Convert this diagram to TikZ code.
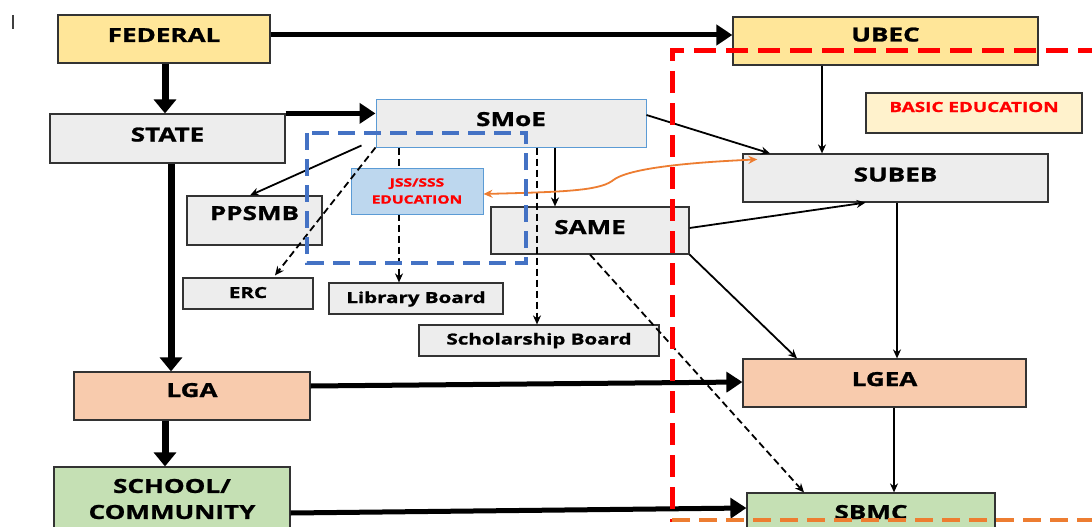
\documentclass[tikz,border=0pt]{standalone}
\usepackage{fontspec}
\setmainfont{Open Sans}[FakeStretch=1.35, BoldFeatures={FakeBold=1.2}]
\usetikzlibrary{arrows.meta}
\definecolor{fedY}{HTML}{FFE699}
\definecolor{grayF}{HTML}{EDEDED}
\definecolor{peach}{HTML}{F8CBAD}
\definecolor{greenF}{HTML}{C5E0B4}
\definecolor{lightB}{HTML}{BDD7EE}
\definecolor{cream}{HTML}{FFF2CC}
\definecolor{blueD}{HTML}{4472C4}
\definecolor{blueL}{HTML}{5B9BD5}
\definecolor{orangeD}{HTML}{ED7D31}
\definecolor{redD}{HTML}{FF0000}
\tikzset{
  basebox/.style={draw=black!80, line width=1.2pt, inner sep=0pt, font=\bfseries\fontsize{19.3}{21}\selectfont},
  box/.style={basebox, text height=14pt, text depth=8pt},
  smallbox/.style={basebox, font=\bfseries\fontsize{15.2}{17}\selectfont, text height=11pt, text depth=2pt},
  thickarr/.style={line width=5pt, -{Triangle[length=16pt,width=20pt]}},
  heavyarr/.style={line width=7pt, -{Triangle[length=14pt,width=22pt]}},
  thinarr/.style={line width=1.8pt, -{Stealth[length=9pt,width=8pt]}},
  dasharr/.style={line width=1.8pt, dash pattern=on 7pt off 4pt, -{Stealth[length=9pt,width=8pt]}},
}
\begin{document}
\begin{tikzpicture}[x=1pt,y=-1pt]
\clip (0,0) rectangle (1092,527);
\fill[white] (0,0) rectangle (1092,527);
% stray mark
\draw[line width=1.5pt, black!75] (13,15) -- (13,29);
% boxes
\node[box, fill=fedY, minimum width=212pt, minimum height=48pt] (fed) at (164,39) {FEDERAL};
\node[box, fill=grayF, minimum width=235pt, minimum height=49pt] (state) at (167.5,138.5) {STATE};
\node[box, draw=blueL, line width=1pt, fill=grayF, minimum width=270pt, minimum height=48pt] (smoe) at (511,123) {SMoE};
\node[box, fill=grayF, minimum width=198pt, minimum height=47pt, text depth=7pt] (same) at (590,230.5) {SAME};
\node[box, fill=grayF, minimum width=135pt, minimum height=49pt, text depth=15pt] (ppsmb) at (254.5,220.5) {PPSMB};
\node[smallbox, fill=grayF, minimum width=130pt, minimum height=31pt] (erc) at (248,293.5) {ERC};
\node[smallbox, fill=grayF, minimum width=174pt, minimum height=31pt] (lib) at (416,298.5) {Library Board};
\node[smallbox, fill=grayF, minimum width=240pt, minimum height=31pt, text depth=3pt] (schol) at (539,340.5) {Scholarship Board};
\node[box, fill=fedY, minimum width=305pt, minimum height=48pt, text depth=13pt] (ubec) at (885.5,41) {UBEC};
\node[basebox, fill=cream, minimum width=216pt, minimum height=40pt, font=\bfseries\fontsize{14}{16}\selectfont, text=redD, text height=10pt, text depth=12pt] (basic) at (974,113) {BASIC EDUCATION};
\node[box, fill=grayF, minimum width=305pt, minimum height=48pt, text depth=7pt] (subeb) at (895.5,178) {SUBEB};
\node[box, fill=peach, minimum width=283pt, minimum height=48pt] (lgea) at (884.5,383) {LGEA};
\node[box, fill=peach, minimum width=236pt, minimum height=48pt, text depth=12pt] (lga) at (192,396) {LGA};
\node[box, fill=greenF, minimum width=248pt, minimum height=48pt, text depth=10pt] (sbmc) at (871,517) {SBMC};
\node[basebox, fill=greenF, minimum width=236pt, minimum height=64pt, align=center, font=\bfseries\fontsize{19.3}{26}\selectfont] (school) at (172,499) {SCHOOL/\\COMMUNITY};
% dashed connector behind JSS box
\draw[dasharr] ([xshift=-112pt]smoe.south) -- ([xshift=-112pt]smoe.south |- lib.north);
\node[draw=blueL, line width=1pt, fill=lightB, minimum width=132pt, minimum height=46pt, inner sep=0pt, align=center, text=redD,
  font=\bfseries\fontsize{11.5}{17}\selectfont] (jss) at (417,191) {JSS/SSS\\EDUCATION};
% thick arrows
\draw[thickarr] ([yshift=4pt]fed.east) -- ([yshift=6pt]ubec.west);
\draw[heavyarr] ([xshift=1pt]fed.south) -- ([xshift=1pt]fed.south |- state.north);
\draw[thickarr] (state.north east) -- (state.north east -| smoe.west);
\draw[heavyarr] ([xshift=3.5pt]state.south) -- ([xshift=3.5pt]state.south |- lga.north);
\draw[heavyarr] ([xshift=-27pt]lga.south) -- ([xshift=-27pt]lga.south |- school.north);
\draw[thickarr] ([yshift=10pt]lga.east) -- ([yshift=1pt]lgea.west);
\draw[thickarr] ([yshift=-14pt]school.east) -- ([yshift=9pt]sbmc.west);
% thin arrows
\draw[thinarr, line width=2.5pt] ([xshift=-63.5pt]ubec.south) -- ([xshift=-63.5pt]ubec.south |- subeb.north);
\draw[thinarr] ([yshift=8pt]smoe.east) -- ([xshift=-125.5pt]subeb.north);
\draw[thinarr] ([yshift=2.5pt]same.east) -- ([xshift=-30pt]subeb.south);
\draw[thinarr] (same.south east) -- ([xshift=-87.5pt]lgea.north);
\draw[thinarr] ([xshift=1.5pt]subeb.south) -- ([xshift=1.5pt]subeb.south |- lgea.north);
\draw[thinarr] ([xshift=9.5pt]lgea.south) -- ([xshift=9.5pt]lgea.south |- sbmc.north);
\draw[thinarr] ([xshift=44pt]smoe.south) -- ([xshift=44pt]smoe.south |- same.north);
\draw[thinarr] ([xshift=-14pt,yshift=2pt]smoe.south west) -- ([xshift=-4.5pt]ppsmb.north);
% dashed arrows
\draw[dasharr] (smoe.south west) -- ([xshift=27pt,yshift=2pt]erc.north);
\draw[dasharr] ([xshift=26pt]smoe.south) -- ([xshift=26pt]smoe.south |- schol.north);
\draw[dasharr] (same.south) -- ([xshift=-67pt]sbmc.north);
% orange two-way curve
\draw[orangeD, line width=1.8pt, {Stealth[length=9pt,width=8pt]}-{Stealth[length=9pt,width=8pt]}]
  ([yshift=-3pt]jss.east) .. controls (560,192) and (598,191) .. (612,181)
  .. controls (628,167) and (700,162) .. ([xshift=15pt,yshift=-6pt]subeb.north west);
% dashed frames
\draw[blueD, line width=4.5pt, dash pattern=on 17pt off 9pt] (307,133) rectangle (526,263);
\draw[redD, line width=5pt, dash pattern=on 22pt off 10pt] (1100,51) -- (672,51) -- (672,522);
\draw[orangeD, line width=4pt, dash pattern=on 18pt off 9pt] (672,520) -- (1100,520);
\end{tikzpicture}
\end{document}
